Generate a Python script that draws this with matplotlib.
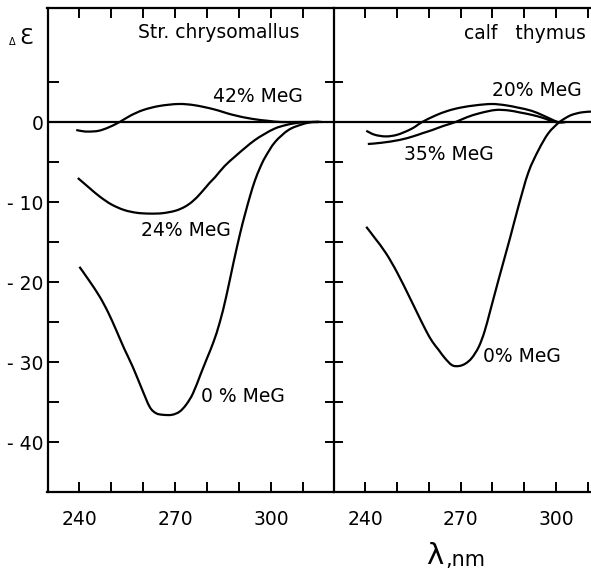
import matplotlib
matplotlib.use("Agg")
import matplotlib.pyplot as plt
from matplotlib.path import Path
from matplotlib.patches import PathPatch

# ---- data (wavelength nm, delta epsilon) ----
# Left panel: Str. chrysomallus
str_42_x = [239, 241, 243, 246, 249, 252.6, 256, 260, 265, 271, 276, 282, 288, 294, 299, 303, 308, 315]
str_42_y = [-1.0, -1.15, -1.2, -1.1, -0.7, 0.0, 0.8, 1.5, 2.0, 2.25, 2.1, 1.6, 0.9, 0.4, 0.15, 0.0, 0.0, 0.0]

str_24_x = [239.5, 243, 246.3, 250, 254, 258, 262, 266, 270, 273, 275.5, 278, 280.8, 282.5, 285.5,
            288.8, 292, 295, 298, 301.3, 304.5, 307.6, 310.5, 315]
str_24_y = [-7.0, -8.2, -9.3, -10.3, -11.0, -11.35, -11.45, -11.4, -11.1, -10.6, -9.9, -8.9, -7.6,
            -6.9, -5.5, -4.3, -3.2, -2.25, -1.5, -0.8, -0.4, -0.15, -0.03, 0.0]

str_0_x = [240, 243, 246.3, 249, 251.5, 254, 256.7, 259.5, 262, 264, 266.2, 269, 271.4, 273.5, 275.6,
           278, 280, 282, 284, 286, 288.2, 290.3, 291.9, 293.5, 295, 296.6, 298.2, 301.3, 305.5,
           309.7, 313, 316]
str_0_y = [-18.1, -19.8, -21.8, -23.8, -26, -28.3, -30.6, -33.3, -35.6, -36.4, -36.6, -36.6, -36.2,
           -35.3, -33.9, -31.5, -29.5, -27.5, -25.0, -21.8, -17.7, -14.0, -11.5, -9.2, -7.3, -5.7,
           -4.4, -2.5, -1.0, -0.3, 0.0, 0.0]

# Right panel: calf thymus
ct_20_x = [240.3, 243, 246.5, 250, 253.8, 256, 257.9, 262, 266, 270, 275, 279.8, 284, 288, 292.3,
           296, 300.6, 303]
ct_20_y = [-1.1, -1.6, -1.8, -1.6, -1.0, -0.5, 0.0, 0.8, 1.4, 1.8, 2.1, 2.25, 2.1, 1.8, 1.4, 0.8,
           0.0, 0.0]

ct_35_x = [240.8, 245, 250.7, 255, 258, 261.1, 264.5, 268.4, 272, 276, 280.9, 285, 288.5, 292.3,
           296, 299.6, 303]
ct_35_y = [-2.75, -2.6, -2.25, -1.8, -1.4, -1.0, -0.5, 0.0, 0.6, 1.1, 1.5, 1.45, 1.2, 0.9, 0.5,
           0.0, 0.0]

ct_0_x = [240.3, 243, 246.5, 250, 253.8, 256.5, 259, 261, 263.1, 265, 267.3, 269.5, 271.5, 273.5,
          275.7, 277.5, 279.3, 282, 285.6, 288.2, 291.3, 294.5, 297.6, 300.8, 303, 305, 308, 311]
ct_0_y = [-13.1, -14.5, -16.4, -18.8, -21.8, -24.0, -26.0, -27.4, -28.5, -29.5, -30.4, -30.5, -30.2,
          -29.5, -28.1, -26.2, -23.6, -19.6, -14.4, -10.5, -6.3, -3.5, -1.4, -0.1, 0.5, 0.9, 1.2,
          1.3]

x_ticks = [240, 250, 260, 270, 280, 290, 300, 310]
x_labels = ["240", "", "", "270", "", "", "300", ""]
y_ticks = [-40, -35, -30, -25, -20, -15, -10, -5, 0, 5]
y_labels = ["- 40", "", "- 30", "", "- 20", "", "- 10", "", "0", ""]

# ---- figure ----
W, H = 591, 571
fig = plt.figure(figsize=(W / 100, H / 100), dpi=100)
FS = 13.5
LW = 1.6


def smooth_curve(ax, xs, ys):
    """Draw a smooth curve through the read points (Catmull-Rom as Bezier path)."""
    pts = list(zip(xs, ys))
    n = len(pts)
    verts = [pts[0]]
    codes = [Path.MOVETO]
    for i in range(n - 1):
        p0 = pts[i - 1] if i > 0 else pts[i]
        p1 = pts[i]
        p2 = pts[i + 1]
        p3 = pts[i + 2] if i + 2 < n else pts[i + 1]
        c1 = (p1[0] + (p2[0] - p0[0]) / 6.0, p1[1] + (p2[1] - p0[1]) / 6.0)
        c2 = (p2[0] - (p3[0] - p1[0]) / 6.0, p2[1] - (p3[1] - p1[1]) / 6.0)
        verts += [c1, c2, p2]
        codes += [Path.CURVE4, Path.CURVE4, Path.CURVE4]
    patch = PathPatch(Path(verts, codes), fill=False, edgecolor="black", lw=LW,
                      capstyle="butt", joinstyle="round", zorder=2)
    ax.add_patch(patch)


top_px, bot_px = 8, 492
y0 = 1 - bot_px / H
hh = (bot_px - top_px) / H
axL = fig.add_axes([47.5 / W, y0, (333.5 - 47.5) / W, hh])
axR = fig.add_axes([333.5 / W, y0, (W - 333.5) / W, hh])

for ax in (axL, axR):
    ax.set_ylim(-46.25, 14.25)
    ax.axhline(0, color="black", lw=LW, zorder=1)
    ax.set_xticks(x_ticks)
    ax.set_xticklabels(x_labels, fontsize=FS)
    ax.tick_params(axis="x", which="both", direction="in", length=7, width=1.4,
                   top=True, bottom=True, pad=13)
    ax.spines["right"].set_visible(False)
    for s in ("left", "top", "bottom"):
        ax.spines[s].set_linewidth(LW)
    ax.set_yticks(y_ticks)

axL.set_xlim(230, 319.6)
axR.set_xlim(230, 311.0)

axL.set_yticklabels(y_labels, fontsize=FS)
axL.tick_params(axis="y", direction="in", length=8, width=1.4, pad=3)
axR.tick_params(axis="y", direction="inout", length=13, width=1.4, labelleft=False)

# curves
for xs, ys in ((str_42_x, str_42_y), (str_24_x, str_24_y), (str_0_x, str_0_y)):
    smooth_curve(axL, xs, ys)
for xs, ys in ((ct_20_x, ct_20_y), (ct_35_x, ct_35_y), (ct_0_x, ct_0_y)):
    smooth_curve(axR, xs, ys)

# panel titles
axL.text(258.2, 11.25, "Str. chrysomallus", fontsize=FS, ha="left", va="center")
axR.text(309.4, 11.1, "calf   thymus", fontsize=FS, ha="right", va="center")

# curve labels
axL.text(281.8, 3.2, "42% MeG", fontsize=FS, ha="left", va="center")
axL.text(259.4, -13.5, "24% MeG", fontsize=FS, ha="left", va="center")
axL.text(278.0, -34.3, "0 % MeG", fontsize=FS, ha="left", va="center")
axR.text(279.8, 4.0, "20% MeG", fontsize=FS, ha="left", va="center")
axR.text(252.3, -4.1, "35% MeG", fontsize=FS, ha="left", va="center")
axR.text(276.9, -29.3, "0% MeG", fontsize=FS, ha="left", va="center")

# axis labels
fig.text(12 / W, 1 - 42 / H, "Δ", fontsize=7, ha="center", va="center")
fig.text(26 / W, 1 - 38 / H, "Ɛ", fontsize=16, ha="center", va="center")
fig.text(435 / W, 1 - 556 / H, "λ", fontsize=21, ha="center", va="center")
fig.text(445 / W, 1 - 566 / H, ",nm", fontsize=15, ha="left", va="baseline")

fig.savefig("out.png", dpi=100)
